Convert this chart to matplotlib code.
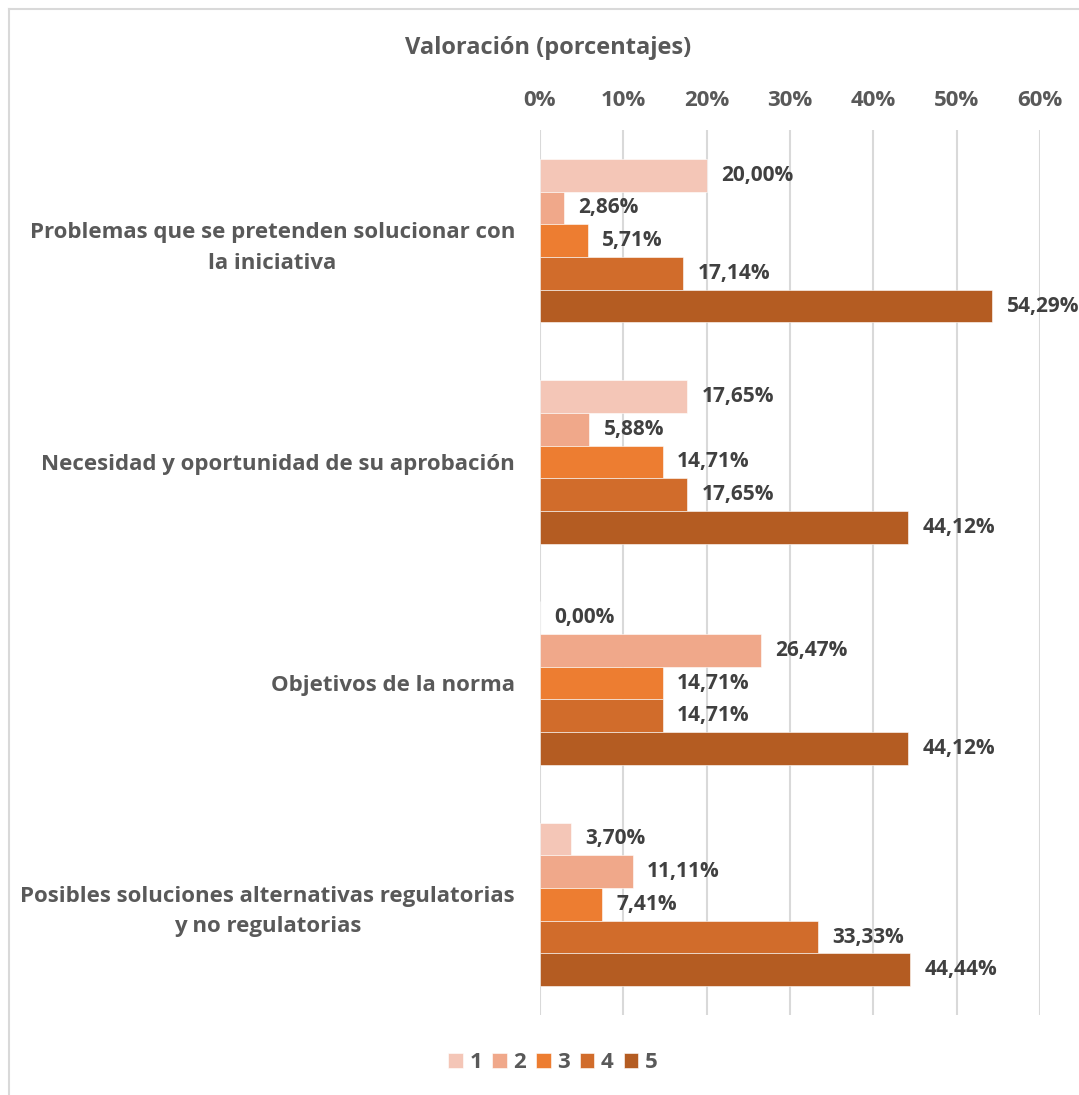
import matplotlib
matplotlib.use("Agg")
import matplotlib.pyplot as plt
import numpy as np

plt.rcParams['font.family'] = ['Open Sans', 'DejaVu Sans']

categories = ["Problemas que se pretenden solucionar con\nla iniciativa",
              "Necesidad y oportunidad de su aprobación",
              "Objetivos de la norma",
              "Posibles soluciones alternativas regulatorias\ny no regulatorias"]
series_names = ["1", "2", "3", "4", "5"]
values = {
    "1": [20.00, 17.65, 0.00, 3.70],
    "2": [2.86, 5.88, 26.47, 11.11],
    "3": [5.71, 14.71, 14.71, 7.41],
    "4": [17.14, 17.65, 14.71, 33.33],
    "5": [54.29, 44.12, 44.12, 44.44],
}
colors = ["#F4C6B7", "#F0A88A", "#ED7D31", "#D16C2B", "#B45C22"]
xticks = [0, 10, 20, 30, 40, 50, 60]
title = "Valoración (porcentajes)"

W, H = 1079, 1095
fig = plt.figure(figsize=(W/100, H/100), dpi=100)
ax = fig.add_axes([540/W, 1-1015/H, 500/W, 885/H])

FS = 16
n = len(series_names)
h = 0.148
y = np.arange(len(categories))
text_col = "#595959"
lab_col = "#404040"
for i, s in enumerate(series_names):
    pos = y - (n-1)/2*h + i*h
    bars = ax.barh(pos, values[s], height=h, color=colors[i], label=s,
                   edgecolor="white", linewidth=0.4, zorder=3)
    for b, v in zip(bars, values[s]):
        ax.annotate(f"{v:.2f}%".replace(".", ","), (v, b.get_y()+b.get_height()/2),
                    xytext=(10.5, 0), textcoords="offset points", ha="left", va="center",
                    fontsize=15, fontweight="bold", color=lab_col)

ax.set_xlim(0, 60)
ax.set_ylim(len(categories)-0.5, -0.5)
ax.set_xticks(xticks)
ax.set_xticklabels([f"{t}%" for t in xticks])
ax.xaxis.tick_top()
ax.set_yticks(y)
ax.set_yticklabels(categories, multialignment="center", linespacing=1.6)
ax.tick_params(axis="both", length=0, labelsize=FS, labelcolor=text_col)
ax.tick_params(axis="x", pad=14)
ax.tick_params(axis="y", pad=18)
for lbl in ax.get_xticklabels() + ax.get_yticklabels():
    lbl.set_fontweight("bold")
ax.grid(axis="x", color="#D9D9D9", linewidth=1.5, zorder=0)
for sp in ax.spines.values():
    sp.set_visible(False)

fig.text(548/W, 1-48/H, title, ha="center", va="center", fontsize=17,
         fontweight="bold", color=text_col)

leg = fig.legend(loc="center", bbox_to_anchor=(553/W, 1-1063/H), ncol=5, frameon=False,
                 handlelength=0.65, handleheight=0.65, handletextpad=0.3, columnspacing=0.45,
                 prop={"weight": "bold", "size": FS})
for t in leg.get_texts():
    t.set_color(text_col)

# chart border
fig.add_artist(plt.Line2D([8.5/W, 8.5/W], [0, 1-9/H], color="#D9D9D9", linewidth=1.5))
fig.add_artist(plt.Line2D([8.5/W, 1], [1-9/H, 1-9/H], color="#D9D9D9", linewidth=1.5))

fig.savefig("out.png", dpi=100, facecolor="white")
